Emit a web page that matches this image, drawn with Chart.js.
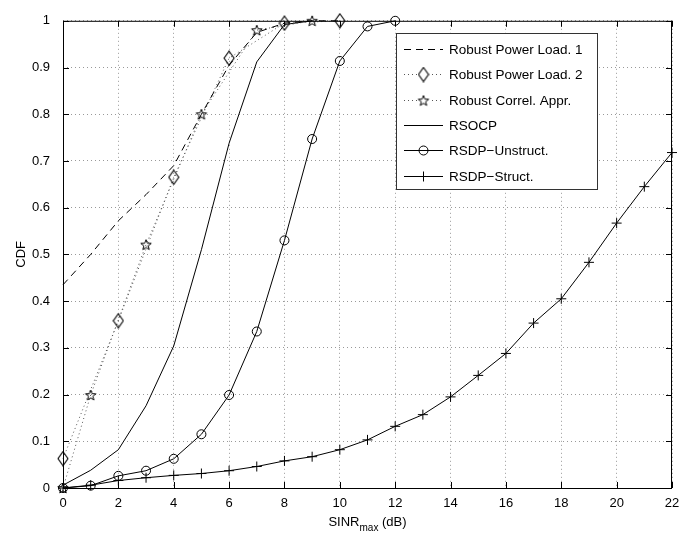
<!DOCTYPE html>
<html lang="en">
<head>
    <meta charset="UTF-8">
    <title>CDF of SINR max</title>
    <script src="https://cdn.jsdelivr.net/npm/chart.js"></script>
    <style>
        body {
            margin: 0;
            background-color: #fff;
        }
        #chartBox {
            width: 698px;
            height: 539px;
        }
    </style>
</head>
<body>
    <div id="chartBox">
        <canvas id="cdfChart" width="698" height="539"></canvas>
    </div>

    <script>
        // data
        const xTicks = [0, 2, 4, 6, 8, 10, 12, 14, 16, 18, 20, 22];
        const yTicks = [0, 0.1, 0.2, 0.3, 0.4, 0.5, 0.6, 0.7, 0.8, 0.9, 1];

        const xPowerLoad1 = [0, 1, 2, 3, 4, 5, 6, 7, 8, 9, 10];
        const powerLoad1 = [0.435, 0.50, 0.572, 0.628, 0.69, 0.80, 0.905, 0.975, 0.995, 1.0, 1.0];

        const xPowerLoad2 = [0, 2, 4, 6, 8, 10];
        const powerLoad2 = [0.063, 0.358, 0.665, 0.92, 0.995, 1.0];

        const xCorrel = [0, 1, 3, 5, 7, 9];
        const correl = [0, 0.199, 0.521, 0.80, 0.98, 1.0];

        const xSocp = [0, 1, 2, 3, 4, 5, 6, 7, 8, 9];
        const socp = [0.006, 0.038, 0.082, 0.176, 0.304, 0.51, 0.738, 0.912, 0.992, 1.0];

        const xUnstruct = [0, 1, 2, 3, 4, 5, 6, 7, 8, 9, 10, 11, 12];
        const unstruct = [0, 0.005, 0.026, 0.037, 0.0625, 0.115, 0.199, 0.335, 0.530, 0.747, 0.914, 0.988, 1.0];

        const xStruct = [0, 1, 2, 3, 4, 5, 6, 7, 8, 9, 10, 11, 12, 13, 14, 15, 16, 17, 18, 19, 20, 21, 22];
        const struct = [0, 0.006, 0.016, 0.022, 0.027, 0.031, 0.037, 0.046, 0.058, 0.067, 0.082, 0.103,
                        0.132, 0.157, 0.195, 0.241, 0.288, 0.353, 0.405, 0.483, 0.567, 0.645, 0.718];

        const FONT = '"Liberation Sans", Arial, Helvetica, sans-serif';

        function pts(xs, ys) {
            return xs.map((x, i) => ({ x: x, y: ys[i] }));
        }

        // hollow marker images (tall diamond, 5 point star)
        function makeDiamond(w, h) {
            const c = document.createElement('canvas');
            c.width = w + 2;
            c.height = h + 2;
            const g = c.getContext('2d');
            g.strokeStyle = '#000';
            g.lineWidth = 1.1;
            g.beginPath();
            g.moveTo(w / 2 + 1, 1);
            g.lineTo(w + 1, h / 2 + 1);
            g.lineTo(w / 2 + 1, h + 1);
            g.lineTo(1, h / 2 + 1);
            g.closePath();
            g.stroke();
            return c;
        }

        function makeStar(r) {
            const size = Math.ceil(r * 2) + 3;
            const c = document.createElement('canvas');
            c.width = size;
            c.height = size;
            const g = c.getContext('2d');
            const cx = size / 2, cy = size / 2 + 0.5;
            g.strokeStyle = '#000';
            g.lineWidth = 1;
            g.beginPath();
            for (let i = 0; i < 10; i++) {
                const rad = i % 2 === 0 ? r : r * 0.42;
                const a = -Math.PI / 2 + i * Math.PI / 5;
                const px = cx + rad * Math.cos(a);
                const py = cy + rad * Math.sin(a);
                if (i === 0) g.moveTo(px, py); else g.lineTo(px, py);
            }
            g.closePath();
            g.stroke();
            return c;
        }

        const diamondImg = makeDiamond(10, 14);
        const starImg = makeStar(5.5);

        const datasets = [
            {
                label: 'Robust Power Load. 1',
                data: pts(xPowerLoad1, powerLoad1),
                borderColor: '#000',
                borderWidth: 1,
                borderDash: [7, 5],
                pointRadius: 0,
                legendMarker: null
            },
            {
                label: 'Robust Power Load. 2',
                data: pts(xPowerLoad2, powerLoad2),
                borderColor: '#555',
                borderWidth: 1,
                borderDash: [1, 3],
                pointStyle: diamondImg,
                pointRadius: 6,
                legendMarker: diamondImg
            },
            {
                label: 'Robust Correl. Appr.',
                data: pts(xCorrel, correl),
                borderColor: '#555',
                borderWidth: 1,
                borderDash: [1, 3],
                pointStyle: starImg,
                pointRadius: 6,
                legendMarker: starImg
            },
            {
                label: 'RSOCP',
                data: pts(xSocp, socp),
                borderColor: '#000',
                borderWidth: 1,
                pointRadius: 0,
                legendMarker: null
            },
            {
                label: 'RSDP\u2212Unstruct.',
                data: pts(xUnstruct, unstruct),
                borderColor: '#000',
                borderWidth: 1,
                pointStyle: 'circle',
                pointRadius: 4.5,
                pointBorderColor: '#000',
                pointBorderWidth: 1,
                pointBackgroundColor: 'rgba(0,0,0,0)',
                legendMarker: 'circle'
            },
            {
                label: 'RSDP\u2212Struct.',
                data: pts(xStruct, struct),
                borderColor: '#000',
                borderWidth: 1,
                pointStyle: 'cross',
                pointRadius: 5,
                pointBorderColor: '#000',
                pointBorderWidth: 1,
                legendMarker: 'cross'
            }
        ];
        datasets.forEach(d => {
            d.fill = false;
            d.tension = 0;
            d.clip = false;
            d.pointHoverRadius = d.pointRadius;
        });

        // box, inward ticks, axis titles and the legend
        const framePlugin = {
            id: 'frame',
            afterDraw(chart) {
                const ctx = chart.ctx;
                const a = chart.chartArea;
                const xs = chart.scales.x, ys = chart.scales.y;
                ctx.save();
                ctx.strokeStyle = '#000';
                ctx.lineWidth = 1;
                ctx.setLineDash([]);
                ctx.strokeRect(a.left + 0.5, a.top + 0.5, a.right - a.left - 1, a.bottom - a.top);

                ctx.beginPath();
                xTicks.forEach(t => {
                    const px = Math.round(xs.getPixelForValue(t)) + 0.5;
                    ctx.moveTo(px, a.bottom);
                    ctx.lineTo(px, a.bottom - 6);
                    ctx.moveTo(px, a.top);
                    ctx.lineTo(px, a.top + 6);
                });
                yTicks.forEach(t => {
                    const py = Math.round(ys.getPixelForValue(t)) + 0.5;
                    ctx.moveTo(a.left, py);
                    ctx.lineTo(a.left + 6, py);
                    ctx.moveTo(a.right, py);
                    ctx.lineTo(a.right - 6, py);
                });
                ctx.stroke();

                // x title with subscript
                ctx.fillStyle = '#000';
                ctx.textBaseline = 'alphabetic';
                ctx.textAlign = 'left';
                const big = '13px ' + FONT, small = '10px ' + FONT;
                ctx.font = big;
                const w1 = ctx.measureText('SINR').width;
                const w3 = ctx.measureText(' (dB)').width;
                ctx.font = small;
                const w2 = ctx.measureText('max').width;
                let x0 = (a.left + a.right) / 2 - (w1 + w2 + w3) / 2;
                const yb = 526;
                ctx.font = big;
                ctx.fillText('SINR', x0, yb);
                ctx.font = small;
                ctx.fillText('max', x0 + w1, yb + 5);
                ctx.font = big;
                ctx.fillText(' (dB)', x0 + w1 + w2, yb);

                // y title
                ctx.save();
                ctx.translate(25, (a.top + a.bottom) / 2);
                ctx.rotate(-Math.PI / 2);
                ctx.textAlign = 'center';
                ctx.fillText('CDF', 0, 0);
                ctx.restore();

                // legend
                const lx = 396, ly = 33, lw = 201, lh = 156;
                ctx.fillStyle = '#fff';
                ctx.fillRect(lx, ly, lw, lh);
                ctx.strokeStyle = '#333';
                ctx.strokeRect(lx + 0.5, ly + 0.5, lw, lh);
                const rowY = [48.5, 74, 99.5, 124.5, 150, 175.5];
                chart.data.datasets.forEach((d, i) => {
                    const y = Math.round(rowY[i]) + 0.5;
                    ctx.save();
                    ctx.strokeStyle = d.borderColor;
                    ctx.lineWidth = 1;
                    ctx.setLineDash(d.borderDash || []);
                    ctx.beginPath();
                    ctx.moveTo(404, y);
                    ctx.lineTo(443, y);
                    ctx.stroke();
                    ctx.restore();
                    if (d.legendMarker) {
                        ctx.save();
                        ctx.strokeStyle = '#000';
                        ctx.fillStyle = 'rgba(0,0,0,0)';
                        ctx.lineWidth = 1;
                        if (typeof d.legendMarker !== 'string') {
                            // clear the dotted line under image markers
                            ctx.fillStyle = '#fff';
                            ctx.fillRect(418, y - 6, 11, 12);
                            ctx.fillStyle = 'rgba(0,0,0,0)';
                        }
                        Chart.helpers.drawPoint(ctx, {
                            pointStyle: d.legendMarker,
                            radius: d.pointRadius,
                            rotation: 0,
                            borderWidth: 1
                        }, 423.5, y);
                        ctx.restore();
                    }
                    ctx.fillStyle = '#000';
                    ctx.font = '13.5px ' + FONT;
                    ctx.textAlign = 'left';
                    ctx.textBaseline = 'middle';
                    ctx.fillText(d.label, 449, y + 1);
                });
                ctx.restore();
            }
        };

        const ctx = document.getElementById('cdfChart').getContext('2d');

        const chart = new Chart(ctx, {
            type: 'line',
            data: { datasets: datasets },
            options: {
                responsive: false,
                animation: false,
                layout: { padding: { left: 0, top: 8, right: 26, bottom: 0 } },
                plugins: {
                    legend: { display: false },
                    tooltip: { enabled: false }
                },
                scales: {
                    x: {
                        type: 'linear',
                        min: 0,
                        max: 22,
                        afterFit: s => { s.height = 51; },
                        afterBuildTicks: s => { s.ticks = xTicks.map(v => ({ value: v })); },
                        ticks: {
                            color: '#000',
                            font: { family: FONT, size: 13 },
                            padding: 8,
                            maxRotation: 0,
                            autoSkip: false
                        },
                        grid: { color: '#999', lineWidth: 1, drawTicks: false },
                        border: { display: false, dash: [1, 3] }
                    },
                    y: {
                        type: 'linear',
                        min: 0,
                        max: 1,
                        afterFit: s => { s.width = 63; },
                        afterBuildTicks: s => { s.ticks = yTicks.map(v => ({ value: v })); },
                        ticks: {
                            color: '#000',
                            font: { family: FONT, size: 13 },
                            padding: 13,
                            autoSkip: false,
                            callback: v => String(Math.round(v * 10) / 10)
                        },
                        grid: { color: '#999', lineWidth: 1, drawTicks: false },
                        border: { display: false, dash: [1, 3] }
                    }
                }
            },
            plugins: [framePlugin]
        });
    </script>
</body>
</html>
